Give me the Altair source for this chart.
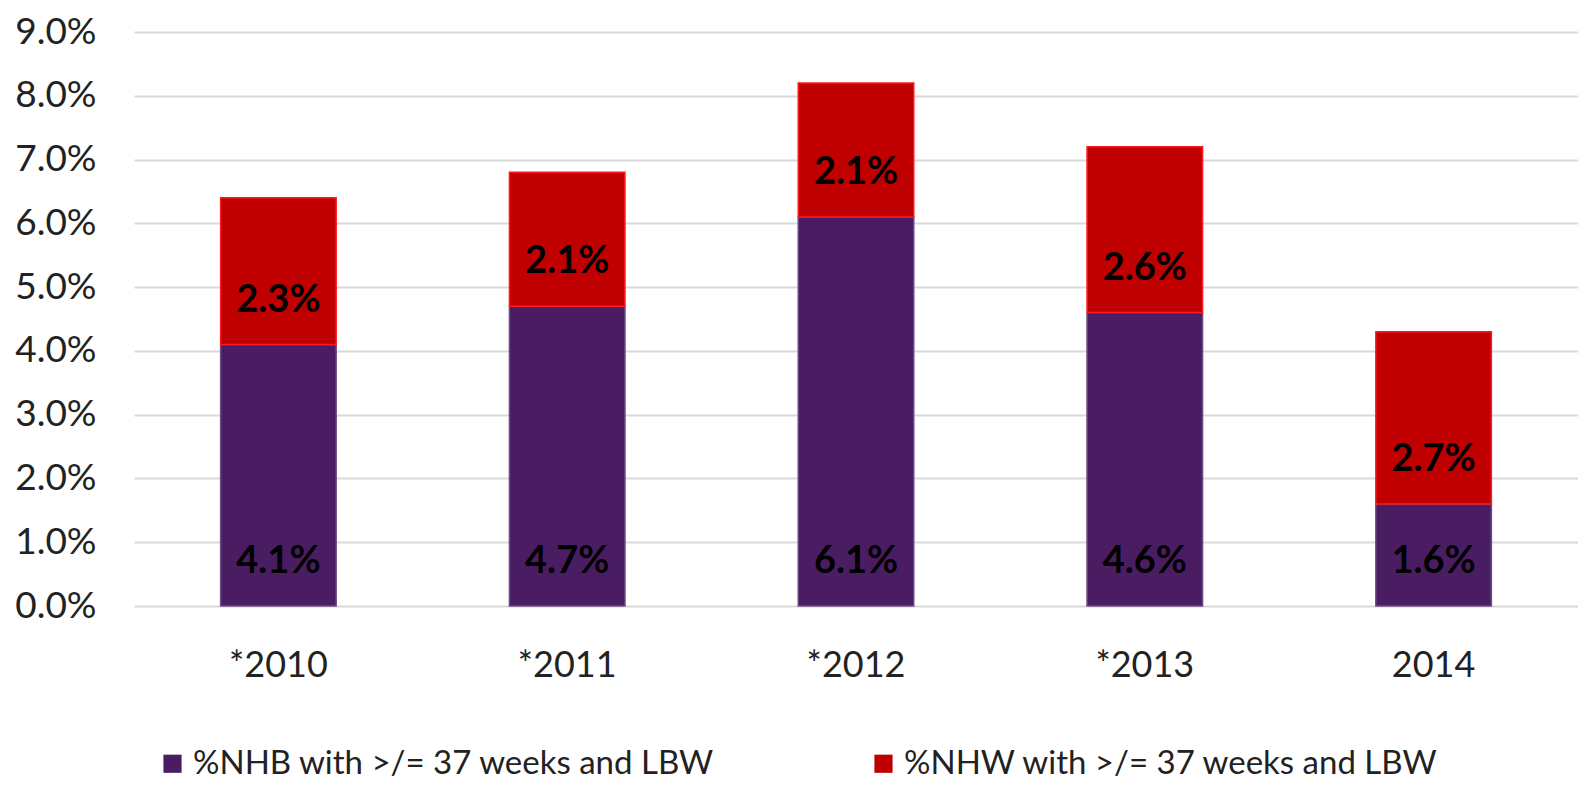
import altair as alt
import pandas as pd

categories = ["*2010", "*2011", "*2012", "*2013", "2014"]
nhb = [0.041, 0.047, 0.061, 0.046, 0.016]
nhw = [0.023, 0.021, 0.021, 0.026, 0.027]
series = ["%NHB with >/= 37 weeks and LBW", "%NHW with >/= 37 weeks and LBW"]
colors = ["#4a1d63", "#c00000"]
strokes = ["#6b4a85", "#ff1a1a"]

rows = []
for i, c in enumerate(categories):
    rows.append({"cat": c, "series": series[0], "ord": 0, "value": nhb[i]})
    rows.append({"cat": c, "series": series[1], "ord": 1, "value": nhw[i]})
df = pd.DataFrame(rows)

FONT = "Lato"

base = alt.Chart(df).transform_stack(
    stack="value", groupby=["cat"], sort=[alt.SortField("ord", order="ascending")], as_=["v0", "v1"]
)

x = alt.X("cat:N", sort=categories, title=None,
          scale=alt.Scale(paddingInner=0.6, paddingOuter=0.3),
          axis=alt.Axis(labelAngle=0, labelFontSize=36, labelFont=FONT, labelColor="#222",
                        labelPadding=42, ticks=False, domain=False, grid=False))

bars = base.mark_bar(strokeWidth=1.5).encode(
    x=x,
    y=alt.Y("v1:Q", title=None,
            scale=alt.Scale(domain=[0, 0.09], nice=False),
            axis=alt.Axis(format=".1%", values=[i / 100 for i in range(10)],
                          labelFontSize=37, labelFont=FONT, labelColor="#222",
                          labelPadding=38, ticks=False, domain=False,
                          gridColor="#d9d9d9", gridWidth=2)),
    y2="v0:Q",
    color=alt.Color("series:N", sort=series,
                    scale=alt.Scale(domain=series, range=colors),
                    legend=alt.Legend(title=None, orient="none", direction="horizontal",
                                      legendX=22, legendY=715,
                                      symbolType="square", symbolSize=330,
                                      symbolStrokeWidth=0,
                                      labelFont=FONT, labelFontSize=33, labelColor="#222",
                                      labelLimit=1000, columnPadding=152, labelOffset=4)),
    stroke=alt.Stroke("series:N", scale=alt.Scale(domain=series, range=strokes), legend=None),
)

labels = base.mark_text(fontSize=38, font=FONT, fontWeight="bold", color="black",
                        baseline="middle", dy=-44).encode(
    x=alt.X("cat:N", sort=categories),
    y=alt.Y("v0:Q"),
    text=alt.Text("value:Q", format=".1%"),
)

chart = alt.layer(bars, labels).properties(
    width=1444, height=574,
    autosize=alt.AutoSizeParams(type="none"),
    padding={"left": 126, "top": 24, "right": 0, "bottom": 176},
).configure_view(stroke=None)

chart.save("out.html", embed_options={"renderer": "svg", "actions": False})
